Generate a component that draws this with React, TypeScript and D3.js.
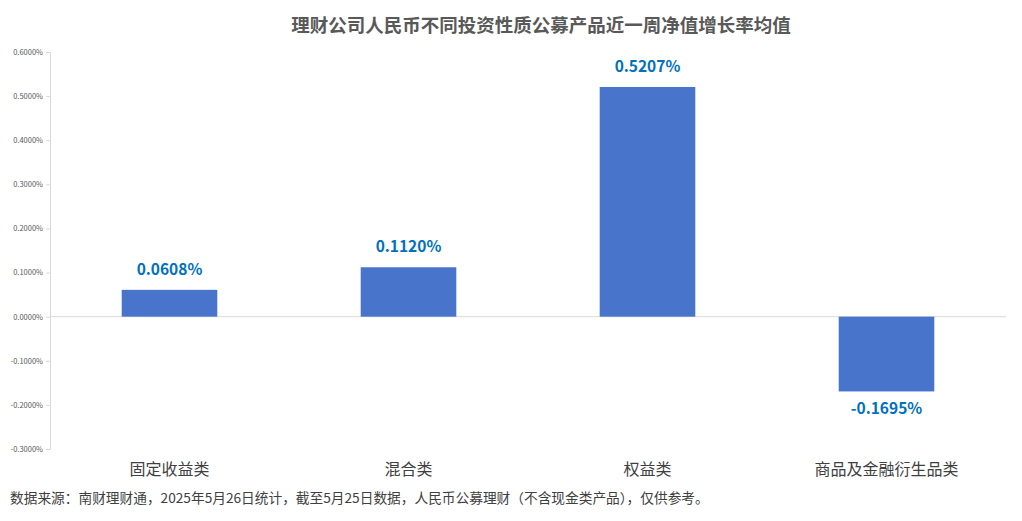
import { useEffect, useRef } from "react";
import * as d3 from "d3";

const categories = ["固定收益类", "混合类", "权益类", "商品及金融衍生品类"];
const values = [0.0608, 0.112, 0.5207, -0.1695];
const yTicks = [0.6, 0.5, 0.4, 0.3, 0.2, 0.1, 0, -0.1, -0.2, -0.3];

const title = "理财公司人民币不同投资性质公募产品近一周净值增长率均值";
const source =
  "数据来源：南财理财通，2025年5月26日统计，截至5月25日数据，人民币公募理财（不含现金类产品），仅供参考。";

const W = 1022;
const H = 521;
const FONT = "'Noto Sans CJK SC', 'Noto Sans', sans-serif";

export default function App() {
  const ref = useRef<SVGSVGElement | null>(null);

  useEffect(() => {
    if (!ref.current) return;
    const svg = d3.select(ref.current);
    svg.selectAll("*").remove();

    const m = { l: 50, r: 16 };

    const x = d3
      .scaleBand()
      .domain(categories)
      .range([m.l, W - m.r])
      .padding(0);

    const y = d3.scaleLinear().domain([-0.3, 0.6]).range([449, 52]);

    // ── Title ──
    svg
      .append("text")
      .attr("x", 541)
      .attr("y", 32)
      .attr("text-anchor", "middle")
      .attr("font-family", FONT)
      .attr("font-size", 18.5)
      .attr("font-weight", "bold")
      .attr("fill", "#595959")
      .text(title);

    // ── Y axis ──
    const yAxis = svg
      .append("g")
      .attr("transform", `translate(${m.l},0)`)
      .call(
        d3
          .axisLeft(y)
          .tickValues(yTicks)
          .tickSize(4)
          .tickPadding(3)
          .tickFormat((d) => `${(d as number).toFixed(4)}%`)
      );
    yAxis.select(".domain").attr("stroke", "#d9d9d9");
    yAxis.selectAll(".tick line").attr("stroke", "#d9d9d9");
    yAxis
      .selectAll("text")
      .attr("font-family", FONT)
      .attr("font-size", 7.5)
      .attr("fill", "#595959");

    // ── Zero line ──
    svg
      .append("line")
      .attr("x1", m.l)
      .attr("x2", W - m.r)
      .attr("y1", y(0))
      .attr("y2", y(0))
      .attr("stroke", "#d9d9d9")
      .attr("stroke-width", 1);

    // ── Bars ──
    const bw = x.bandwidth() * 0.4;
    const data = categories.map((c, i) => ({ c, v: values[i] }));

    svg
      .selectAll("rect.bar")
      .data(data)
      .enter()
      .append("rect")
      .attr("class", "bar")
      .attr("x", (d) => (x(d.c) as number) + x.bandwidth() / 2 - bw / 2)
      .attr("y", (d) => y(Math.max(0, d.v)))
      .attr("width", bw)
      .attr("height", (d) => Math.abs(y(d.v) - y(0)))
      .attr("fill", "#4874CB");

    // ── Value labels ──
    svg
      .selectAll("text.val")
      .data(data)
      .enter()
      .append("text")
      .attr("class", "val")
      .attr("x", (d) => (x(d.c) as number) + x.bandwidth() / 2)
      .attr("y", (d) => (d.v >= 0 ? y(d.v) - 15 : y(d.v) + 23))
      .attr("text-anchor", "middle")
      .attr("font-family", FONT)
      .attr("font-size", 15.5)
      .attr("font-weight", "bold")
      .attr("fill", "#0070C0")
      .text((d) => `${d.v.toFixed(4)}%`);

    // ── Category labels ──
    svg
      .selectAll("text.cat")
      .data(categories)
      .enter()
      .append("text")
      .attr("class", "cat")
      .attr("x", (d) => (x(d) as number) + x.bandwidth() / 2)
      .attr("y", 475)
      .attr("text-anchor", "middle")
      .attr("font-family", FONT)
      .attr("font-size", 16)
      .attr("fill", "#404040")
      .text((d) => d);

    // ── Source ──
    svg
      .append("text")
      .attr("x", 10)
      .attr("y", 503)
      .attr("font-family", FONT)
      .attr("font-size", 13.7)
      .attr("fill", "#404040")
      .text(source);
  }, []);

  return (
    <svg
      ref={ref}
      width={W}
      height={H}
      style={{ position: "absolute", left: 0, top: 0, background: "#fff" }}
    />
  );
}
